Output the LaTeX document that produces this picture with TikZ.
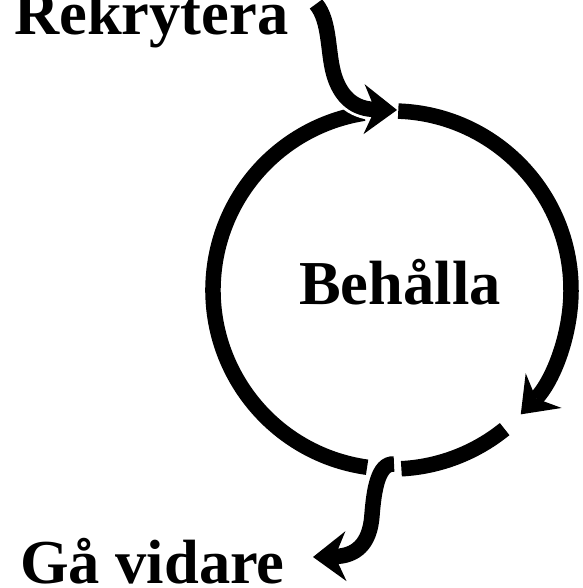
\documentclass[tikz,border=0pt]{standalone}
\usepackage{fontspec}
\setmainfont{Liberation Serif}
\usetikzlibrary{arrows.meta}

\begin{document}
\begin{tikzpicture}[x=1pt,y=1pt,
  flow/.style={line width=15.5pt},
  halo/.style={white,line width=22pt},
  pil/.style={-{Stealth[length=33pt,width=50pt,inset=11pt,line width=0pt]}},
  etikett/.style={font=\fontsize{62.5}{70}\selectfont\bfseries,inner sep=0pt}]
  \useasboundingbox (0,0) rectangle (582,588);
  \clip (0,0) rectangle (582,588);
  \coordinate (mitt) at (392,298);
  \node[etikett,anchor=base west] (rekrytera) at (14,553) {Rekrytera};
  \node[etikett,anchor=base] (behalla) at (400,283) {Behålla};
  \node[etikett,anchor=base west] (gavidare) at (20,5) {Gå vidare};
  \coordinate (rekstart) at (316,584);
  \coordinate (rekend) at (397,478);
  \coordinate (gastart) at (394,124);
  \coordinate (gaend) at (313,31);
  \draw[flow] (mitt) ++(262:179pt) arc[start angle=262,end angle=99,radius=179pt];
  \draw[flow,pil] (mitt) ++(88:179pt) arc[start angle=88,end angle=-44,radius=179pt];
  \draw[flow] (mitt) ++(-51:179pt) arc[start angle=-51,end angle=-87,radius=179pt];
  \draw[halo] (rekstart) .. controls (331,566) and (327,533) .. (335,510)
    .. controls (342,490) and (355,479) .. (380,478);
  \draw[flow,pil] (rekstart) .. controls (331,566) and (327,533) .. (335,510)
    .. controls (342,490) and (355,479) .. (rekend);
  \draw[halo] (gastart) .. controls (378,125) and (374,98) .. (372,73)
    .. controls (370,43) and (355,32) .. (330,31);
  \draw[flow,pil] (gastart) .. controls (378,125) and (374,98) .. (372,73)
    .. controls (370,43) and (355,32) .. (gaend);
\end{tikzpicture}
\end{document}
